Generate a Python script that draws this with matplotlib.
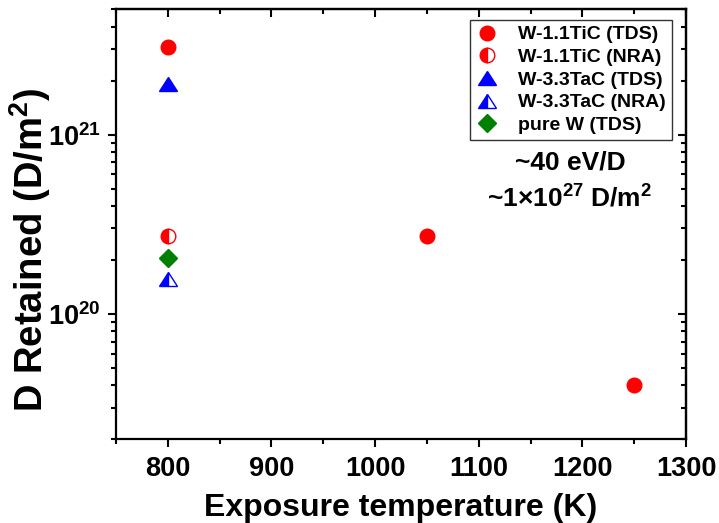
import numpy as np
import matplotlib
matplotlib.use("Agg")
import matplotlib.pyplot as plt
from matplotlib.markers import MarkerStyle
from matplotlib.transforms import Affine2D
from matplotlib.ticker import LogLocator, FuncFormatter, MultipleLocator, NullFormatter

plt.rcParams["font.family"] = ["Liberation Sans", "DejaVu Sans"]
plt.rcParams["font.weight"] = "bold"
plt.rcParams["mathtext.fontset"] = "custom"
plt.rcParams["mathtext.rm"] = "Liberation Sans:bold"
plt.rcParams["mathtext.bf"] = "Liberation Sans:bold"
plt.rcParams["mathtext.it"] = "Liberation Sans:bold"

# Deuterium retention vs. exposure temperature
tic_tds_T = [800, 1050, 1250]
tic_tds_D = [3.1e21, 2.72e20, 4.0e19]
tic_nra_T = [800]
tic_nra_D = [2.72e20]
tac_tds_T = [800]
tac_tds_D = [1.91e21]
tac_nra_T = [800]
tac_nra_D = [1.57e20]
pureW_tds_T = [800]
pureW_tds_D = [2.06e20]

xticks = [800, 900, 1000, 1100, 1200, 1300]

fig = plt.figure(figsize=(7.19, 5.23), dpi=100)
ax = fig.add_axes([116 / 719, 1 - 439.3 / 523, (686 - 116) / 719, (439.3 - 9.3) / 523])

red = "#ff0000"
blue = "#0000ff"
green = "#008000"

tri_full = MarkerStyle("^", transform=Affine2D().scale(1.0, 0.82))
tri_half = MarkerStyle("^", fillstyle="left", transform=Affine2D().scale(1.0, 0.82))
circ_half = MarkerStyle("o", fillstyle="left")

ax.plot(tic_tds_T, tic_tds_D, ls="none", marker="o", ms=10.5, mfc=red, mec=red,
        mew=1, label="W-1.1TiC (TDS)")
ax.plot(tic_nra_T, tic_nra_D, ls="none", marker=circ_half, ms=10.5, mfc=red,
        mfcalt="white", mec=red, mew=1, label="W-1.1TiC (NRA)")
ax.plot(tac_tds_T, tac_tds_D, ls="none", marker=tri_full, ms=13, mfc=blue, mec=blue,
        mew=1, label="W-3.3TaC (TDS)")
ax.plot(tac_nra_T, tac_nra_D, ls="none", marker=tri_half, ms=12.5, mfc=blue,
        mfcalt="white", mec=blue, mew=1, label="W-3.3TaC (NRA)")
ax.plot(pureW_tds_T, pureW_tds_D, ls="none", marker="D", ms=9, mfc=green, mec=green,
        mew=1, label="pure W (TDS)")

ax.set_xlim(750, 1300)
ax.set_yscale("log")
ax.set_ylim(2e19, 5e21)

ax.set_xticks(xticks)
ax.xaxis.set_minor_locator(MultipleLocator(50))
ax.yaxis.set_major_locator(LogLocator(base=10, numticks=10))
ax.yaxis.set_minor_locator(LogLocator(base=10, subs=np.arange(2, 10), numticks=20))
ax.yaxis.set_major_formatter(FuncFormatter(lambda v, p: r"10$^{%d}$" % round(np.log10(v))))
ax.yaxis.set_minor_formatter(NullFormatter())

for s in ax.spines.values():
    s.set_linewidth(1.6)
ax.tick_params(which="major", direction="out", length=6, width=1.5, labelsize=19.5, pad=6)
ax.tick_params(which="minor", direction="out", length=3.5, width=1.5)
ax.tick_params(axis="y", which="major", pad=5)

# mirrored ticks on top and right, pointing into the frame
top = ax.secondary_xaxis("top")
top.set_xticks(xticks)
top.xaxis.set_minor_locator(MultipleLocator(50))
top.tick_params(which="major", direction="in", length=6, width=1.5, labeltop=False)
top.tick_params(which="minor", direction="in", length=3.5, width=1.5)
top.spines["top"].set_linewidth(1.6)

right = ax.secondary_yaxis("right")
right.yaxis.set_major_locator(LogLocator(base=10, numticks=10))
right.yaxis.set_minor_locator(LogLocator(base=10, subs=np.arange(2, 10), numticks=20))
right.tick_params(which="major", direction="in", length=6, width=1.5, labelright=False)
right.tick_params(which="minor", direction="in", length=3.5, width=1.5, labelright=False)
right.spines["right"].set_linewidth(1.6)

ax.set_xlabel("Exposure temperature (K)", fontsize=23, fontweight="bold", labelpad=8)
ax.set_ylabel("D Retained (D/m$^2$)", fontsize=27.5, fontweight="bold", va="center")
# label centre in axes coordinates
ax.yaxis.set_label_coords((30 - 116) / 570, (439.3 - 250) / 430)

leg = ax.legend(loc="upper right", bbox_to_anchor=(672 / 719, 1 - 20 / 523),
                bbox_transform=fig.transFigure, fontsize=14, frameon=True, fancybox=False,
                framealpha=1, edgecolor="#333333", handlelength=1.2, handletextpad=1.0,
                labelspacing=0.26, borderpad=0.3, borderaxespad=0, numpoints=1)
leg.get_frame().set_linewidth(1.0)

fig.text(570 / 719, 1 - 162 / 523, "~40 eV/D", ha="center", va="center",
         fontsize=19, fontweight="bold")
fig.text(570 / 719, 1 - 198 / 523, "~1\u00d710$^{27}$ D/m$^2$", ha="center", va="center",
         fontsize=19, fontweight="bold")

fig.savefig("out.png", dpi=100)
